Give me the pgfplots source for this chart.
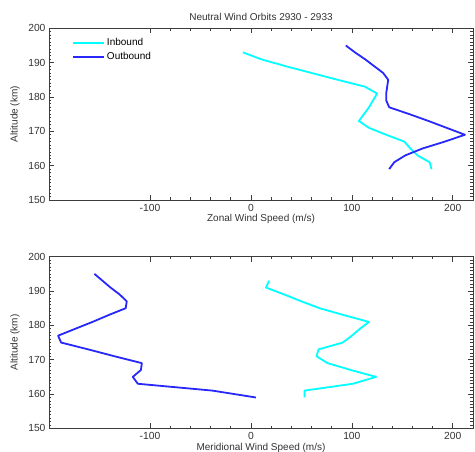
\documentclass[border=0pt]{standalone}
\usepackage{pgfplots}
\pgfplotsset{compat=1.18}
\usepackage{fontspec}
\setmainfont{Liberation Sans}
\definecolor{inb}{RGB}{0,255,255}
\definecolor{outb}{RGB}{40,40,250}
\definecolor{axc}{RGB}{60,60,60}
\pgfplotsset{
 myax/.style={
  scale only axis, width=424pt, height=171.7pt,
  xmin=-200, xmax=220, ymin=150, ymax=200,
  xtick={-100,0,100,200}, ytick={150,160,...,200},
  minor x tick num=4, minor y tick num=9,
  tick align=inside,
  major tick length=5pt, minor tick length=2.5pt,
  axis line style={axc, line width=0.8pt},
  tick style={axc, line width=0.7pt},
  tick label style={font=\fontsize{10.3}{12}\selectfont, text=black!80},
  /pgf/number format/assume math mode=true,
  label style={font=\fontsize{10}{12}\selectfont, text=black!80},
  xticklabel style={anchor=center, yshift=-8pt},
  ylabel={Altitude (km)},
  ylabel style={at={(axis description cs:-0.08,0.5)}, anchor=center},
  xlabel style={at={(axis description cs:0.5,-0.112)}, anchor=center},
  every axis plot/.append style={line width=1.8pt, line join=round, mark=none},
 }
}
\begin{document}
\begin{tikzpicture}
\path[use as bounding box] (-49pt,28.3pt) rectangle (426pt,-423.7pt);
\begin{axis}[myax, at={(0pt,0pt)}, anchor=north west,
  title={Neutral Wind Orbits 2930 - 2933},
  title style={font=\fontsize{10}{12}\selectfont, text=black!80, at={(axis description cs:0.5,1)}, anchor=south, yshift=-2pt},
  xlabel={Zonal Wind Speed (m/s)},
  legend style={at={(axis description cs:0,1)}, anchor=north west, xshift=20pt, yshift=-6pt, draw=none, fill=none, font=\fontsize{10}{12}\selectfont, row sep=1pt},
  legend cell align=left,
  legend image code/.code={\draw[#1] (0pt,0pt) -- (31pt,0pt);},
]
\addplot[inb] coordinates {(-8,193)(10,191)(34,189)(60,187)(86,185)(113,183)(125,181)(121,179)(117,177)(112,175)(107,173)(117,171)(134,169)(152,167)(158,165)(165,163)(177,161)(179,159)};
\addlegendentry{Inbound}
\addplot[outb] coordinates {(94,195)(103,193)(113,191)(122,189)(131,187)(136,185)(135,183)(134,181)(134,179)(137,177)(157,175)(176,173)(194,171)(212,169)(192,167)(170,165)(153,163)(142,161)(137,159)};
\addlegendentry{Outbound}
\end{axis}
\begin{axis}[myax, at={(0pt,-228.4pt)}, anchor=north west,
  xlabel={Meridional Wind Speed (m/s)},
]
\addplot[outb] coordinates {(-155,195)(-147,193)(-139,191)(-130,189)(-123,187)(-124,185)(-141,183)(-157,181)(-174,179)(-191,177)(-188,175)(-161,173)(-135,171)(-108,169)(-109,167)(-117,165)(-112,163)(-38,161)(5,159)};
\addplot[inb] coordinates {(18,193)(15,191)(33,189)(50,187)(68,185)(92,183)(117,181)(108,179)(100,177)(91,175)(67,173)(65,171)(76,169)(99,167)(124,165)(101,163)(53,161)(53,159)};
\end{axis}
\end{tikzpicture}
\end{document}
